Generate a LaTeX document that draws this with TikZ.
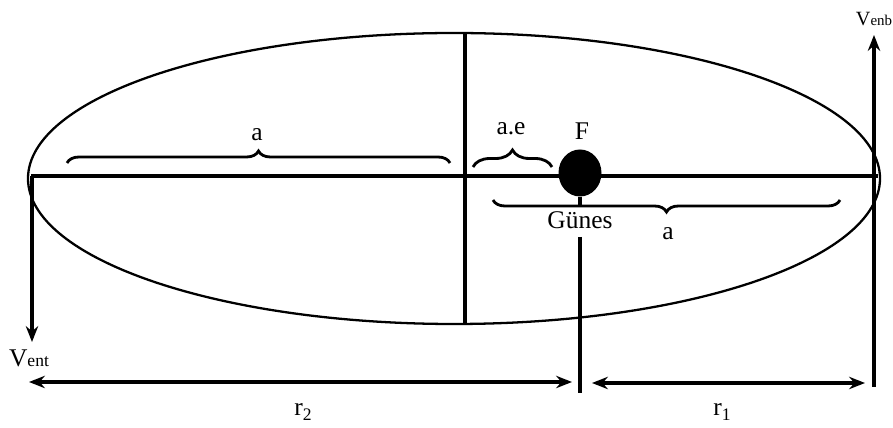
\documentclass[tikz,border=0pt]{standalone}
\usepackage{fontspec}
\setmainfont{Liberation Serif}
\usetikzlibrary{arrows.meta,decorations.pathreplacing,shapes.geometric}
\tikzset{
  axisline/.style={line width=1.9pt},
  orbit/.style={line width=1.3pt},
  vel/.style={line width=1.9pt,-{Stealth[length=9pt,width=7pt]}},
  dist/.style={line width=1.9pt,{Stealth[length=9pt,width=7pt]}-{Stealth[length=9pt,width=7pt]}},
  curly/.style={line width=1.6pt,decorate,decoration={brace,amplitude=#1}},
  lbl/.style={font=\fontsize{14.5}{17}\selectfont,inner sep=0pt},
  sun/.style={ellipse,fill,inner sep=0pt,minimum width=0.86cm,minimum height=0.94cm},
}
\newcommand{\subtxt}[1]{{\fontsize{10}{12}\selectfont #1}}
\begin{document}
\begin{tikzpicture}[x=0.02cm,y=-0.02cm]
  \useasboundingbox (0,0) rectangle (893,428);
  % orbit and axes
  \draw[orbit] (454,178.5) ellipse [x radius=426, y radius=145.5];
  \coordinate (axL) at (31,176);
  \coordinate (axR) at (878,176);
  \coordinate (minT) at (465,33);
  \coordinate (minB) at (465,324);
  \draw[axisline] (axL)--(axR);
  \draw[axisline] (minT)--(minB);
  % sun
  \node[sun] (sun) at (580,173) {};
  \node[lbl] (F) at (582,131) {F};
  \node[lbl] (gunes) at (580,220) {Günes};
  \coordinate (sunT) at (580,206);
  \coordinate (gunesB) at (580,237);
  \coordinate (sunB) at (580,393);
  \draw[axisline] (sun.south)--(sunT);
  \draw[axisline] (gunesB)--(sunB);
  % velocities
  \coordinate (entS) at (32,176);
  \coordinate (entE) at (32,342);
  \draw[vel] (entS)--(entE);
  \node[lbl] (vent) at (29,358.5) {V\subtxt{ent}};
  \coordinate (enbS) at (874,387);
  \coordinate (enbE) at (874,35);
  \draw[vel] (enbS)--(enbE);
  \node[lbl,font=\fontsize{11.5}{14}\selectfont] (venb) at (874,19)
  {V{\fontsize{8.5}{10}\selectfont enb}};
  % braces
  \coordinate (bA1) at (67,163);
  \coordinate (bA2) at (450,163);
  \draw[curly=0.24cm] (bA1)--(bA2);
  \node[lbl] (aL) at (257,134.5) {a};
  \coordinate (bE1) at (473,167);
  \coordinate (bE2) at (552,167);
  \draw[curly=0.34cm] (bE1)--(bE2);
  \node[lbl] (ae) at (511,129) {a.e};
  \coordinate (bB1) at (840,200);
  \coordinate (bB2) at (493,200);
  \draw[curly=0.24cm] (bB1)--(bB2);
  \node[lbl] (aR) at (668,233.5) {a};
  % distances
  \coordinate (r2L) at (29,382);
  \coordinate (r2R) at (572,382);
  \draw[dist] (r2L)--(r2R);
  \node[lbl] (r2) at (303,412) {r\raisebox{-3pt}{\subtxt{2}}};
  \coordinate (r1L) at (592,383);
  \coordinate (r1R) at (865,383);
  \draw[dist] (r1L)--(r1R);
  \node[lbl] (r1) at (722,412) {r\raisebox{-3pt}{\subtxt{1}}};
\end{tikzpicture}
\end{document}
